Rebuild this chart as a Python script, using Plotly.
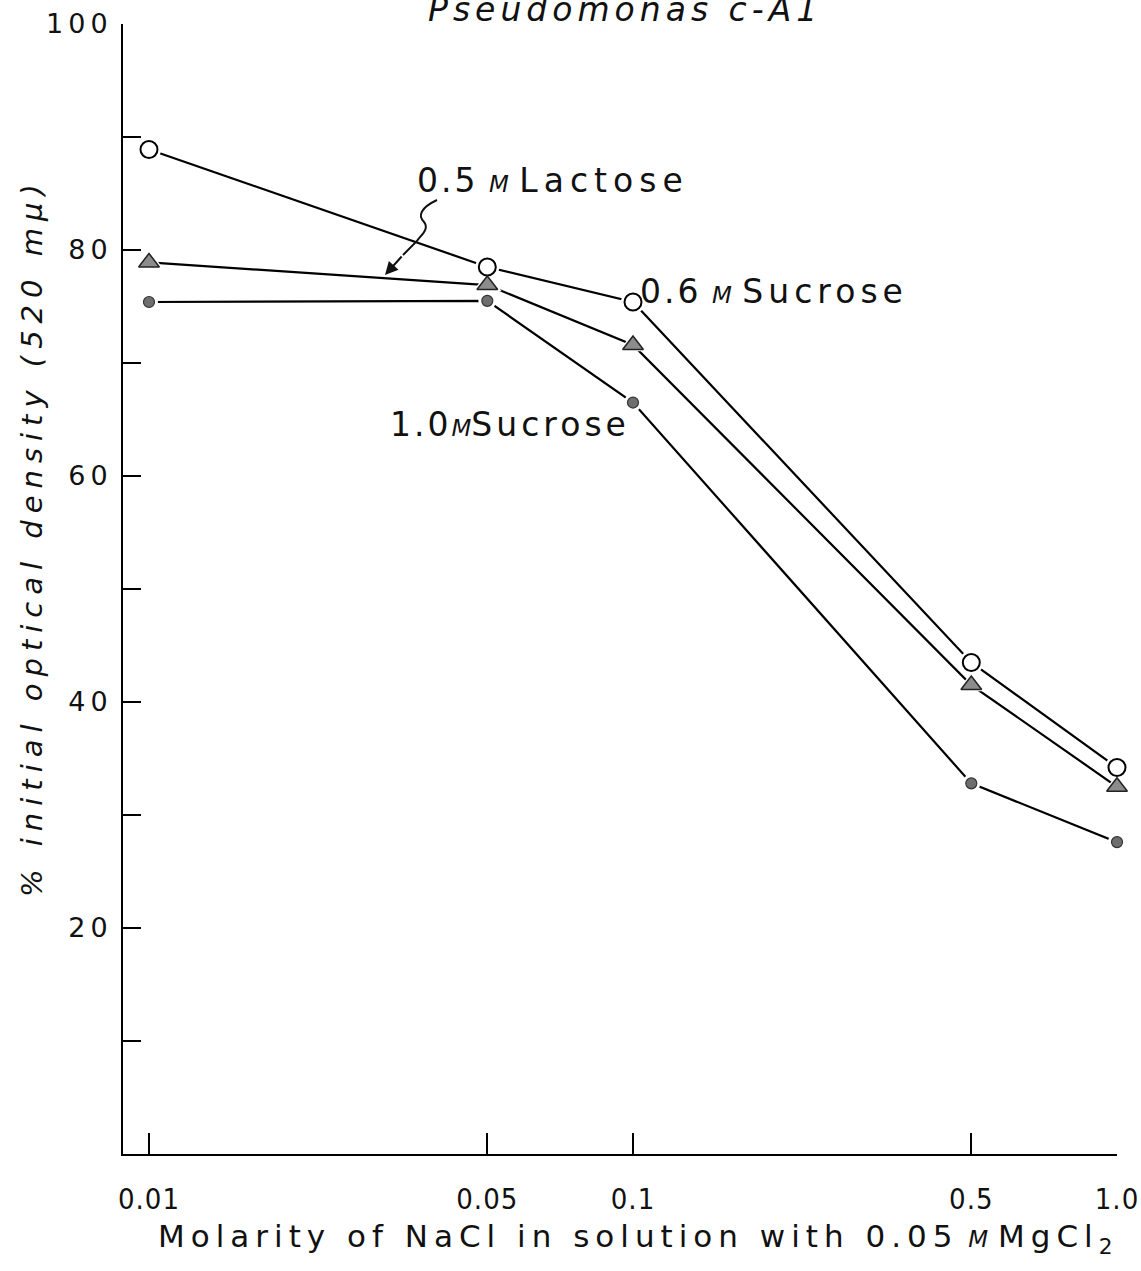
import plotly.graph_objects as go

# ---- data ----
nacl = [0.01, 0.05, 0.1, 0.5, 1.0]
x_ticklabels = ["0.01", "0.05", "0.1", "0.5", "1.0"]
sucrose_06 = [88.9, 78.5, 75.4, 43.5, 34.2]   # open circles
lactose_05 = [78.9, 76.9, 71.6, 41.5, 32.5]   # grey triangles
sucrose_10 = [75.4, 75.5, 66.5, 32.8, 27.6]   # filled circles
y_tickvals = [20, 40, 60, 80, 100]

W, H = 1141, 1271
L, R, T, B = 123, 1117, 24, 1154
FONT = "DejaVu Sans"
CFONT = "DejaVu Sans Condensed, DejaVu Sans"


def px(xp, yp):
    """pixel position -> paper coords (for decorations only)"""
    return (xp - L) / (R - L), (B - yp) / (B - T)


fig = go.Figure()

series = [
    (sucrose_06, dict(symbol="circle", size=17, color="white", line=dict(color="black", width=2))),
    (lactose_05, dict(symbol="triangle-up", size=18, color="#8c8c8c", line=dict(color="#222", width=1.5))),
    (sucrose_10, dict(symbol="circle", size=11, color="#6e6e6e", line=dict(color="#333", width=1.2))),
]

for ys, mk in series:
    fig.add_trace(go.Scatter(x=nacl, y=ys, mode="lines",
                             line=dict(color="black", width=2.2),
                             hoverinfo="skip", cliponaxis=False))
for ys, mk in series:
    fig.add_trace(go.Scatter(x=nacl, y=ys, mode="markers",
                             marker=dict(symbol=mk["symbol"], size=mk["size"] + 7, color="white",
                                         line=dict(width=0)),
                             hoverinfo="skip", cliponaxis=False))
for ys, mk in series:
    fig.add_trace(go.Scatter(x=nacl, y=ys, mode="markers", marker=mk, cliponaxis=False))

ls = "letter-spacing:{}px"

def sp(t, s):
    return f"<span style='{ls.format(s)}'>{t}</span>"

ann = []
# title (partially cut at top, as in the original scan)
x0, y0 = px(625, 9)
ann.append(dict(xref="paper", yref="paper", x=x0, y=y0, xanchor="center", yanchor="middle",
                text="<i>" + sp("Pseudomonas c-A1", 5) + "</i>", showarrow=False,
                font=dict(family=FONT, size=33, color="#111")))
# series labels
mspan = "<span style='font-size:23px'><i>M</i></span>"
x0, y0 = px(415, 181)
ann.append(dict(xref="paper", yref="paper", x=x0, y=y0, xanchor="left", yanchor="middle",
                text=sp("0.5", 3) + " " + mspan + " " + sp("Lactose", 6), showarrow=False,
                font=dict(family=FONT, size=33, color="#111")))
x0, y0 = px(638, 291)
ann.append(dict(xref="paper", yref="paper", x=x0, y=y0, xanchor="left", yanchor="middle",
                text=sp("0.6", 3) + " " + mspan + " " + sp("Sucrose", 5), showarrow=False,
                font=dict(family=FONT, size=33, color="#111")))
x0, y0 = px(388, 425)
ann.append(dict(xref="paper", yref="paper", x=x0, y=y0, xanchor="left", yanchor="middle",
                text=sp("1.0", 3) + mspan + sp("Sucrose", 4), showarrow=False,
                font=dict(family=FONT, size=33, color="#111")))
# curvy arrow head
hx, hy = px(385, 275)
ann.append(dict(xref="paper", yref="paper", x=hx, y=hy, ax=18, ay=-20, text="",
                showarrow=True, arrowhead=2, arrowsize=1.3, arrowwidth=2, arrowcolor="#111"))
# axis titles
x0, y0 = px(32, 537)
ann.append(dict(xref="paper", yref="paper", x=x0, y=y0, xanchor="center", yanchor="middle",
                textangle=-90, showarrow=False,
                text="<i>" + sp("% initial optical density (520 mμ)", 7) + "</i>",
                font=dict(family=FONT, size=29, color="#111")))
x0, y0 = px(635, 1238)
ann.append(dict(xref="paper", yref="paper", x=x0, y=y0, xanchor="center", yanchor="middle",
                showarrow=False,
                text=sp("Molarity of NaCl in solution with 0.05", 6) + " " +
                     "<span style='font-size:23px'><i>M</i></span> " + sp("MgCl", 6) + "<sub>2</sub>",
                font=dict(family=FONT, size=31, color="#111")))

# wavy tail of the arrow
pts = [(437, 200), (420, 208), (418, 216), (424, 222), (430, 229), (420, 236), (417, 241)]
path = "M {} {}".format(*px(*pts[0]))
path += " C {} {}, {} {}, {} {}".format(*px(*pts[1]), *px(*pts[2]), *px(*pts[3]))
path += " C {} {}, {} {}, {} {}".format(*px(*pts[4]), *px(*pts[5]), *px(*pts[6]))
path += " L {} {}".format(*px(403, 255))
shapes = [dict(type="path", xref="paper", yref="paper", path=path,
               line=dict(color="#111", width=2))]

fig.update_layout(
    width=W, height=H, autosize=False,
    margin=dict(l=L, r=W - R, t=T, b=H - B, pad=0),
    paper_bgcolor="white", plot_bgcolor="white",
    showlegend=False,
    annotations=ann, shapes=shapes,
    xaxis=dict(type="log", range=[-2.0537, 0.0], showgrid=False, zeroline=False,
               automargin=False, ticklabeloverflow="allow",
               showline=True, linecolor="black", linewidth=2,
               ticks="inside", ticklen=21, tickwidth=2, tickcolor="black",
               tickmode="array", tickvals=nacl,
               ticktext=[sp(t, 1) for t in x_ticklabels],
               ticklabelstandoff=18,
               tickfont=dict(family=CFONT, size=29, color="#111")),
    yaxis=dict(range=[0, 100], showgrid=False, zeroline=False,
               automargin=False, ticklabeloverflow="allow",
               showline=True, linecolor="black", linewidth=2,
               ticks="inside", ticklen=18, tickwidth=2, tickcolor="black",
               tickmode="array", tickvals=y_tickvals,
               ticktext=[sp(str(v), 5) for v in y_tickvals],
               ticklabelstandoff=3,
               minor=dict(ticks="inside", ticklen=18, tickwidth=2, tickcolor="black",
                          tickmode="linear", tick0=0, dtick=10),
               tickfont=dict(family=FONT, size=27, color="#111")),
)

fig.write_html("out.html")
